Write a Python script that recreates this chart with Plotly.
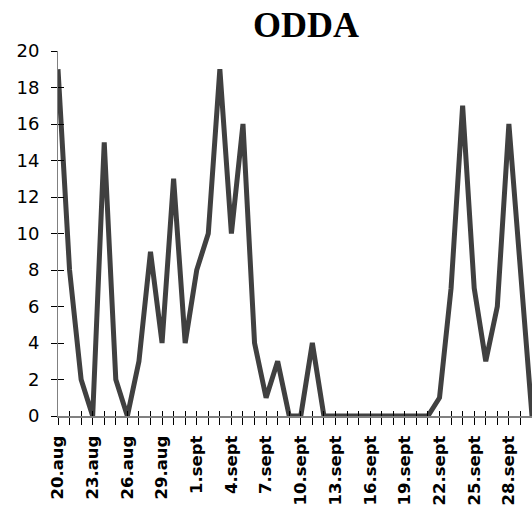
import plotly.graph_objects as go

days = ["20.aug", "21.aug", "22.aug", "23.aug", "24.aug", "25.aug", "26.aug",
        "27.aug", "28.aug", "29.aug", "30.aug", "31.aug",
        "1.sept", "2.sept", "3.sept", "4.sept", "5.sept", "6.sept", "7.sept",
        "8.sept", "9.sept", "10.sept", "11.sept", "12.sept", "13.sept", "14.sept",
        "15.sept", "16.sept", "17.sept", "18.sept", "19.sept", "20.sept", "21.sept",
        "22.sept", "23.sept", "24.sept", "25.sept", "26.sept", "27.sept", "28.sept",
        "29.sept", "30.sept"]
values = [19, 8, 2, 0, 15, 2, 0, 3, 9, 4, 13, 4,
          8, 10, 19, 10, 16, 4, 1, 3, 0, 0, 4, 0, 0, 0,
          0, 0, 0, 0, 0, 0, 0, 1, 7, 17, 7, 3, 6, 16,
          8, 0]
labelled = ["20.aug", "23.aug", "26.aug", "29.aug", "1.sept", "4.sept", "7.sept",
            "10.sept", "13.sept", "16.sept", "19.sept", "22.sept", "25.sept", "28.sept"]
y_ticks = [0, 2, 4, 6, 8, 10, 12, 14, 16, 18, 20]

ticktext = [d if d in labelled else "" for d in days]

fig = go.Figure()
fig.add_trace(go.Scatter(x=days, y=values, mode="lines",
                         line=dict(color="#404040", width=5),
                         showlegend=False, hoverinfo="skip"))
fig.add_trace(go.Scatter(x=days, y=values, mode="lines", xaxis="x2", yaxis="y2",
                         line=dict(color="rgba(0,0,0,0)", width=0),
                         showlegend=False, hoverinfo="skip"))

fig.update_layout(
    width=532, height=506,
    margin=dict(l=58, r=0, t=51, b=90, autoexpand=False),
    paper_bgcolor="white", plot_bgcolor="white",
    title=dict(text="<b>ODDA</b>", x=306/532, xanchor="center",
               y=1 - 37/506, yanchor="bottom",
               font=dict(family="Liberation Serif", size=36, color="black")),
    xaxis=dict(type="category", range=[0, 41], tickvals=days, ticktext=ticktext,
               tickangle=-90, ticks="outside", ticklen=7, tickcolor="black",
               tickwidth=1, showline=True, linecolor="#808080", linewidth=2,
               showgrid=False, zeroline=False, automargin=False,
               ticklabelstandoff=4,
               tickfont=dict(family="DejaVu Sans", size=16.5, color="black",
                             weight="bold")),
    yaxis=dict(range=[0, 20], tickvals=y_ticks, ticks="outside", ticklen=6,
               tickcolor="black", tickwidth=1, showline=True, linecolor="#808080",
               linewidth=1, showgrid=False, zeroline=False, automargin=False,
               ticklabelstandoff=8,
               tickfont=dict(family="DejaVu Sans", size=18, color="black")),
    xaxis2=dict(type="category", overlaying="x", matches="x", range=[0, 41],
                tickvals=days, ticks="inside", ticklen=5, tickcolor="black",
                showticklabels=False, showline=False, showgrid=False,
                zeroline=False, automargin=False),
    yaxis2=dict(overlaying="y", matches="y", range=[0, 20], tickvals=y_ticks,
                ticks="inside", ticklen=6, tickcolor="black", side="left",
                showticklabels=False, showline=False, showgrid=False,
                zeroline=False, automargin=False),
)

fig.write_html("out.html", config={"displayModeBar": False},
               post_script="document.body.style.margin='0';")
